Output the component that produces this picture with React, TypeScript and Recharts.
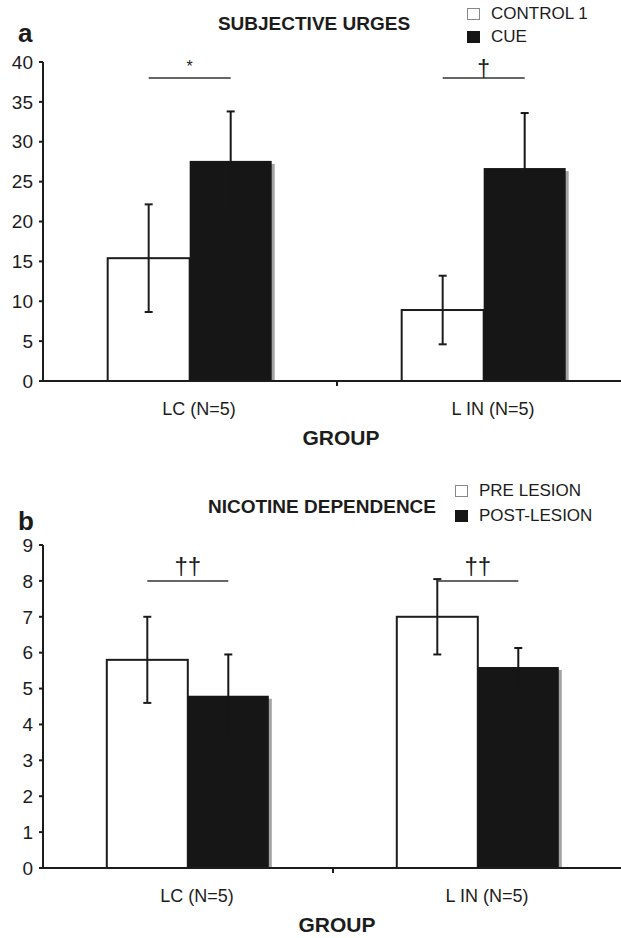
import { BarChart, Bar, XAxis, YAxis, ErrorBar, LabelList, Legend, Label } from 'recharts'

const FONT = '"Liberation Sans", Arial, Helvetica, sans-serif'
const INK = '#1c1c1c'
const BLACK = '#161616'

const groups = ['LC (N=5)', 'L IN (N=5)']

// panel a - subjective urges
const urgeTicks = [0, 5, 10, 15, 20, 25, 30, 35, 40]
const urgeControl = [15.4, 8.9]
const urgeControlErr = [6.75, 4.3]
const urgeCue = [27.6, 26.7]
const urgeCueErr = [6.2, 6.9]
const urgeSig = ['*', '†']

// panel b - nicotine dependence
const depTicks = [0, 1, 2, 3, 4, 5, 6, 7, 8, 9]
const depPre = [5.8, 7.0]
const depPreErr = [1.2, 1.05]
const depPost = [4.8, 5.6]
const depPostErr = [1.15, 0.53]
const depSig = ['††', '††']

const sigFont: Record<string, number> = { '*': 16, '†': 23, '††': 24 }
const sigLift: Record<string, number> = { '*': 6, '†': 1, '††': 7 }

const WhiteBar = (p: any) => (
  <rect x={p.x} y={p.y} width={p.width} height={p.height} fill="#fff" stroke={INK} strokeWidth={2} />
)

const BlackBar = (p: any) => (
  <g>
    <rect x={p.x + 3} y={p.y + 3} width={p.width} height={Math.max(p.height - 3, 0)} fill="#a3a3a3" />
    <rect x={p.x} y={p.y} width={p.width} height={p.height} fill={BLACK} />
  </g>
)

const GroupTick = (p: any) => {
  const half = p.payload?.offset || p.width / (2 * p.visibleTicksCount)
  return (
    <g>
      <text x={p.x + 9} y={p.y + 34} textAnchor="middle" fontFamily={FONT} fontSize={18} fill={INK}>
        {p.payload.value}
      </text>
      {p.index < p.visibleTicksCount - 1 && (
        <line x1={p.x + half} x2={p.x + half} y1={p.y} y2={p.y + 5} stroke={INK} strokeWidth={2} />
      )}
    </g>
  )
}

// significance bracket from the centre of the first bar to the centre of the second
const sigMark = (values: number[], level: number) => (p: any) => {
  const vb = p.viewBox ?? p
  const bottom = vb.y + vb.height
  const yLine = bottom - (vb.height / values[p.index]) * level
  const x1 = vb.x + vb.width / 2
  const x2 = vb.x + vb.width * 1.5
  return (
    <g>
      <line x1={x1} x2={x2} y1={yLine} y2={yLine} stroke="#333" strokeWidth={1.5} />
      <text
        x={(x1 + x2) / 2}
        y={yLine - (sigLift[p.value] ?? 3)}
        textAnchor="middle"
        fontFamily={FONT}
        fontSize={sigFont[p.value] ?? 18}
        fill={INK}
      >
        {p.value}
      </text>
    </g>
  )
}

const legendBox = (row: number, names: string[]) => (p: any) => {
  const items = [...(p.payload ?? [])].sort((a: any, b: any) => names.indexOf(a.value) - names.indexOf(b.value))
  return (
    <div style={{ fontFamily: FONT, fontSize: 17, color: INK }}>
      {items.map((e: any) => (
        <div key={e.value} style={{ display: 'flex', alignItems: 'center', height: row }}>
          <span
            style={{
              width: 13,
              height: 12,
              boxSizing: 'border-box',
              border: e.color === '#fff' ? '1px solid #888' : 'none',
              background: e.color,
              marginRight: 11,
            }}
          />
          {e.value}
        </div>
      ))}
    </div>
  )
}

type PanelProps = {
  top: number
  width: number
  height: number
  plotTop: number
  letter: string
  letterTop: number
  title: string
  titleTop: number
  titleX: number
  names: string[]
  first: number[]
  firstErr: number[]
  second: number[]
  secondErr: number[]
  sig: string[]
  sigLevel: number
  ticks: number[]
  legendLeft: number
  legendTop: number
  legendRow: number
}

function Panel(props: PanelProps) {
  const data = groups.map((g, i) => ({
    group: g,
    first: props.first[i],
    firstErr: props.firstErr[i],
    second: props.second[i],
    secondErr: props.secondErr[i],
    sig: props.sig[i],
  }))
  const max = props.ticks[props.ticks.length - 1]
  return (
    <div style={{ position: 'absolute', left: 0, top: props.top, width: props.width, height: props.height }}>
      <div style={{ position: 'absolute', left: 18, top: props.letterTop, fontFamily: FONT, fontSize: 26, fontWeight: 700, lineHeight: 1, color: INK }}>
        {props.letter}
      </div>
      <div
        style={{
          position: 'absolute',
          left: props.titleX - 200,
          width: 400,
          textAlign: 'center',
          top: props.titleTop,
          fontFamily: FONT,
          fontSize: 19,
          fontWeight: 700,
          lineHeight: 1,
          color: INK,
        }}
      >
        {props.title}
      </div>
      <BarChart
        width={props.width}
        height={props.height}
        data={data}
        margin={{ top: props.plotTop, right: 0, bottom: 0, left: 0 }}
        barGap={0}
        barCategoryGap="22%"
      >
        <XAxis
          dataKey="group"
          height={70}
          tickLine={false}
          tickSize={0}
          tickMargin={0}
          tick={<GroupTick />}
          axisLine={{ stroke: INK, strokeWidth: 2 }}
        >
          <Label value="GROUP" position="insideBottom" offset={6} dx={4} style={{ fontFamily: FONT, fontSize: 21, fontWeight: 700, fill: INK }} />
        </XAxis>
        <YAxis
          width={43}
          domain={[0, max]}
          ticks={props.ticks}
          interval={0}
          allowDataOverflow
          tickSize={4}
          tickMargin={6}
          tickLine={{ stroke: INK, strokeWidth: 2 }}
          axisLine={{ stroke: INK, strokeWidth: 2 }}
          tick={{ fontFamily: FONT, fontSize: 19, fill: INK }}
        />
        <Legend
          layout="vertical"
          align="center"
          verticalAlign="middle"
          content={legendBox(props.legendRow, props.names)}
          wrapperStyle={{ left: props.legendLeft, top: props.legendTop, width: 160 }}
        />
        <Bar dataKey="first" name={props.names[0]} fill="#fff" shape={WhiteBar} isAnimationActive={false}>
          <ErrorBar dataKey="firstErr" width={4} stroke={INK} strokeWidth={2} />
          <LabelList dataKey="sig" content={sigMark(props.first, props.sigLevel)} />
        </Bar>
        <Bar dataKey="second" name={props.names[1]} fill={BLACK} shape={BlackBar} isAnimationActive={false}>
          {/* same colour as the fill, so only the upper whisker shows */}
          <ErrorBar dataKey="secondErr" width={4} stroke={BLACK} strokeWidth={2} />
        </Bar>
      </BarChart>
    </div>
  )
}

export default function App() {
  return (
    <div style={{ position: 'absolute', left: 0, top: 0, width: 621, height: 938, overflow: 'hidden', background: '#fff' }}>
      <Panel
        top={0}
        width={631}
        height={451}
        plotTop={62}
        letter="a"
        letterTop={20}
        title="SUBJECTIVE URGES"
        titleTop={14}
        titleX={314}
        names={['CONTROL 1', 'CUE']}
        first={urgeControl}
        firstErr={urgeControlErr}
        second={urgeCue}
        secondErr={urgeCueErr}
        sig={urgeSig}
        sigLevel={38}
        ticks={urgeTicks}
        legendLeft={467}
        legendTop={3}
        legendRow={22.5}
      />
      <Panel
        top={470}
        width={623}
        height={468}
        plotTop={75}
        letter="b"
        letterTop={38}
        title="NICOTINE DEPENDENCE"
        titleTop={27}
        titleX={322}
        names={['PRE LESION', 'POST-LESION']}
        first={depPre}
        firstErr={depPreErr}
        second={depPost}
        secondErr={depPostErr}
        sig={depSig}
        sigLevel={8}
        ticks={depTicks}
        legendLeft={455}
        legendTop={8}
        legendRow={25}
      />
    </div>
  )
}
